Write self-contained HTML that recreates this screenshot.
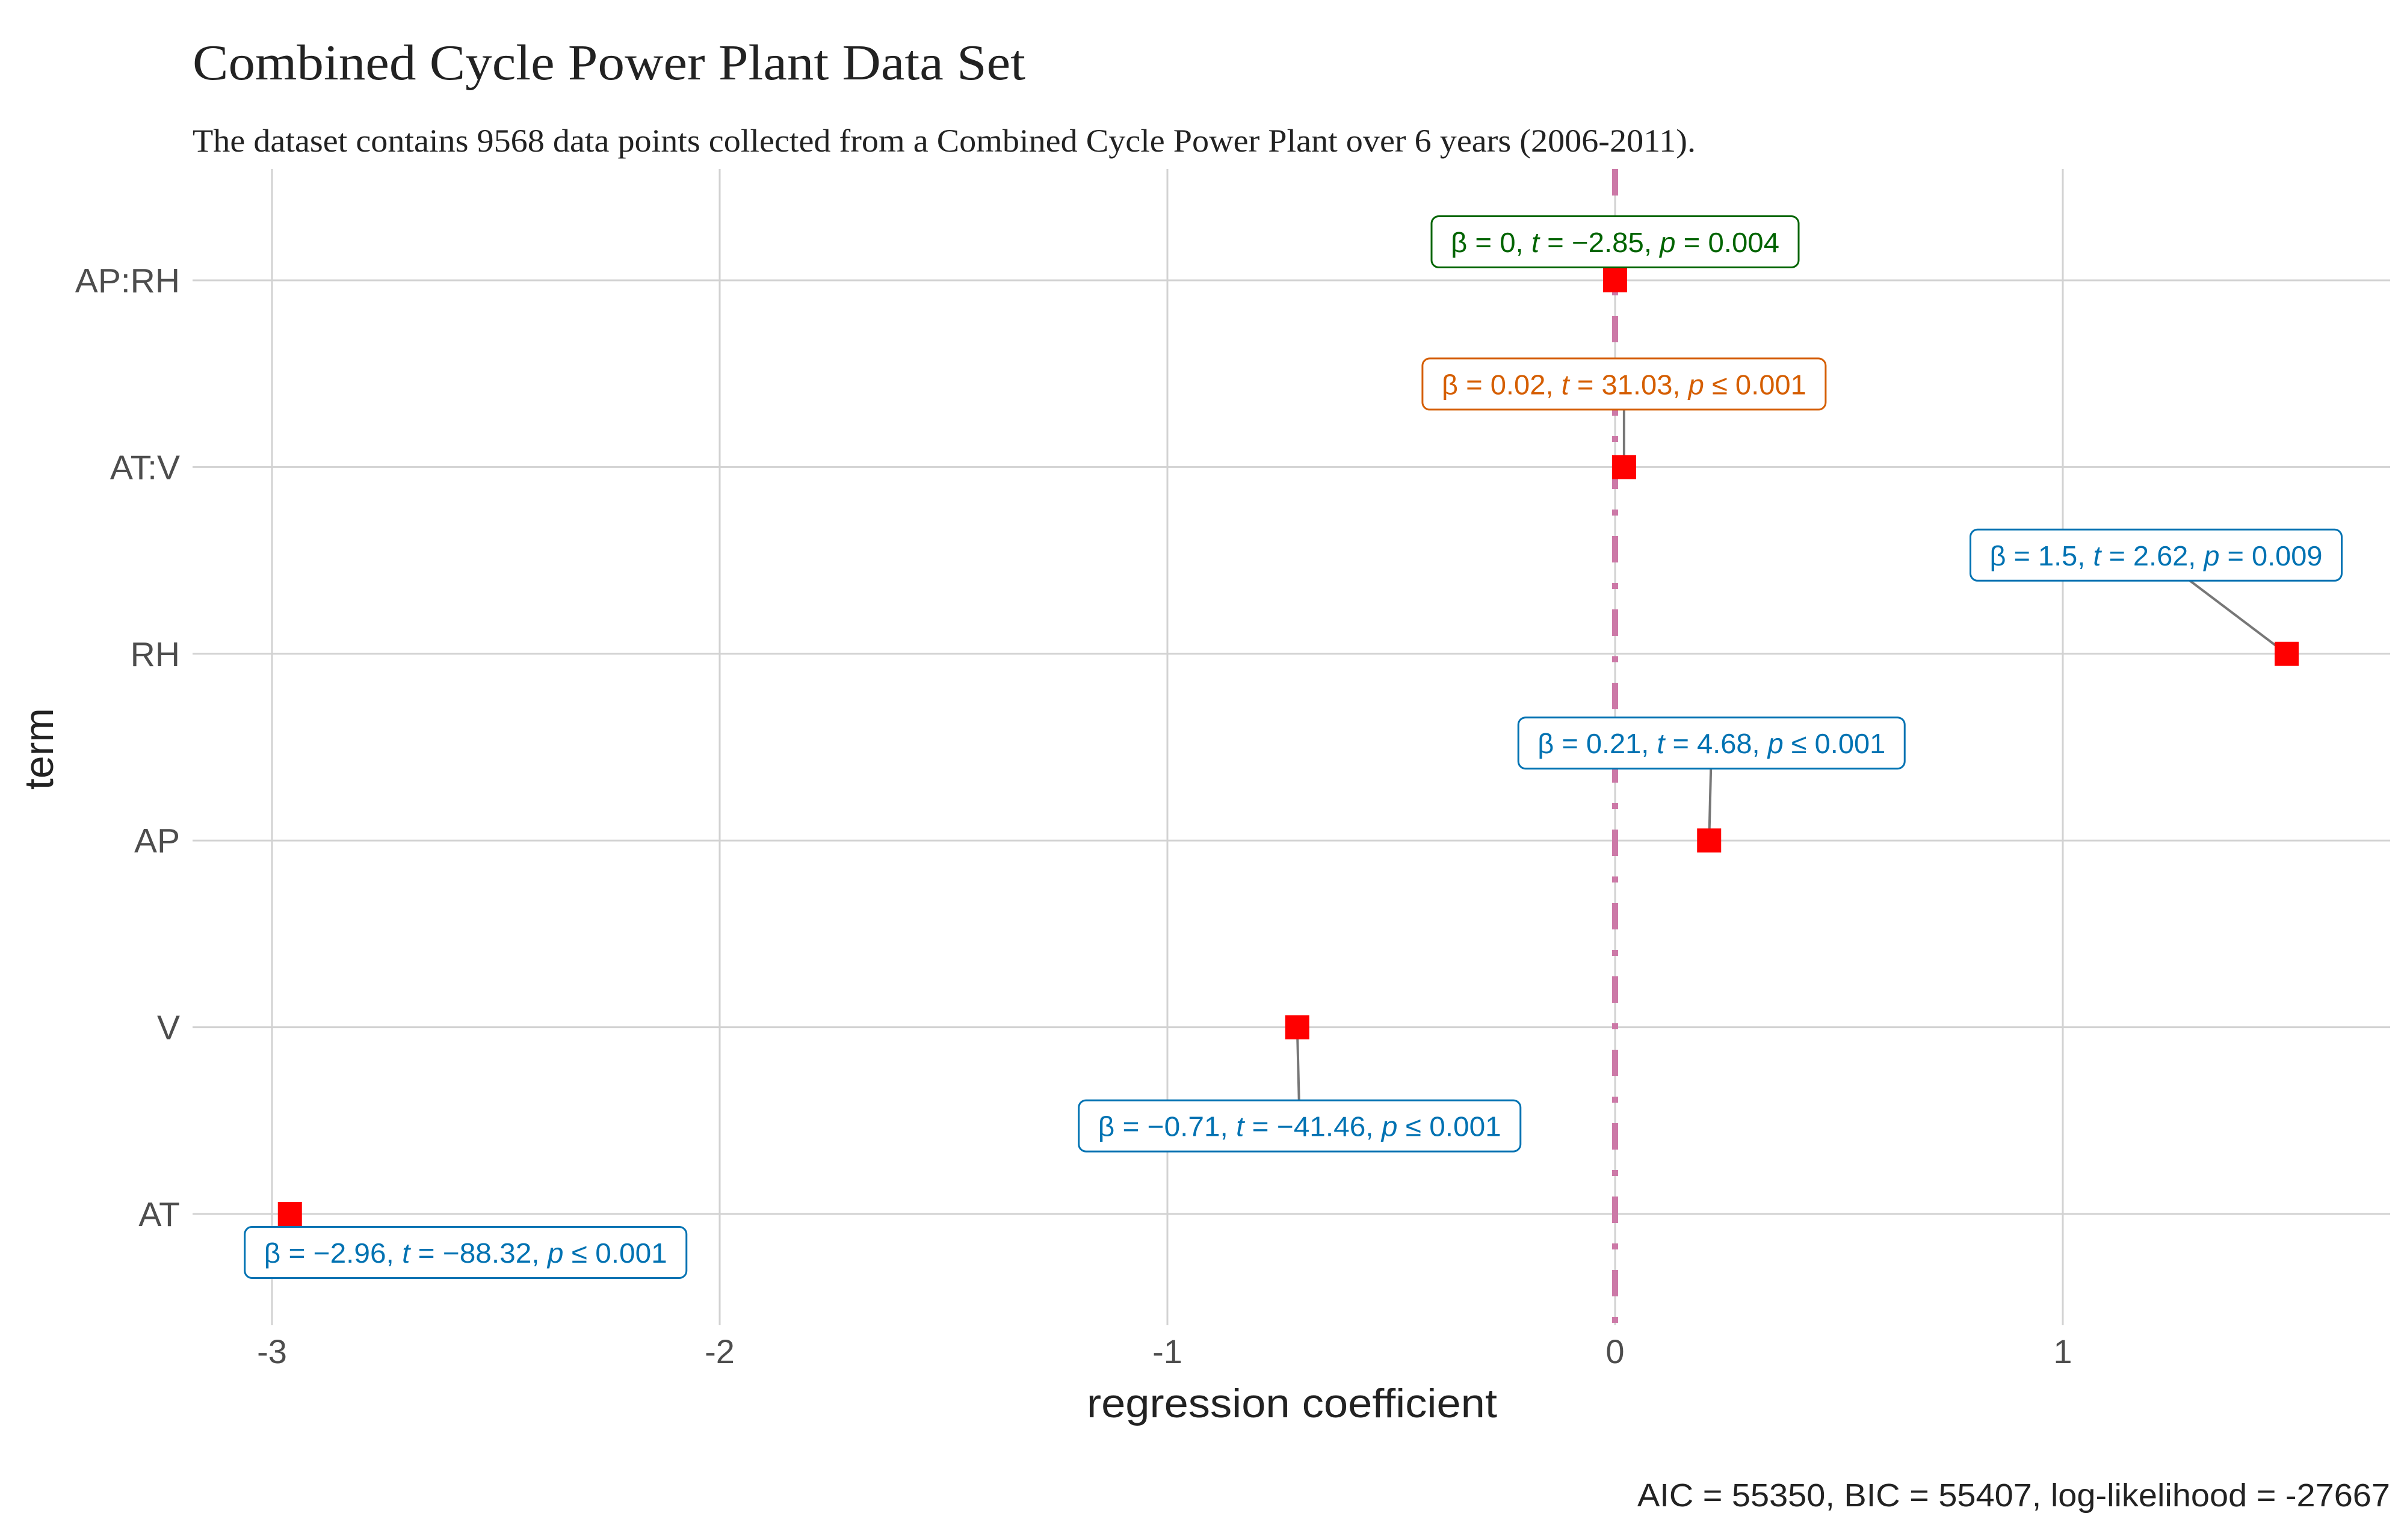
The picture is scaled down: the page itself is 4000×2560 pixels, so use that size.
<!DOCTYPE html>
<html><head><meta charset="utf-8"><style>
html,body{margin:0;padding:0;background:#fff;}
svg{display:block;}
</style></head><body>
<svg id="chart" width="4000" height="2560" viewBox="0 0 4000 2560" xmlns="http://www.w3.org/2000/svg">
<rect x="0" y="0" width="4000" height="2560" fill="#ffffff"/>
<text x="320" y="132" font-family="Liberation Serif, serif" font-size="84" fill="#222" textLength="1384" lengthAdjust="spacingAndGlyphs">Combined Cycle Power Plant Data Set</text>
<text x="320" y="252" font-family="Liberation Serif, serif" font-size="54" fill="#222" textLength="2498" lengthAdjust="spacingAndGlyphs">The dataset contains 9568 data points collected from a Combined Cycle Power Plant over 6 years (2006-2011).</text>
<g id="grid"></g>
<g id="zero"></g>
<g id="marks"></g>
<g id="axes"></g>
<text x="2147" y="2356" text-anchor="middle" font-family="Liberation Sans, sans-serif" font-size="68" fill="#222" textLength="682" lengthAdjust="spacingAndGlyphs">regression coefficient</text>
<text transform="translate(88,1245) rotate(-90)" text-anchor="middle" font-family="Liberation Sans, sans-serif" font-size="68" fill="#222">term</text>
<text x="3972" y="2504" text-anchor="end" font-family="Liberation Sans, sans-serif" font-size="54" fill="#222" textLength="1251" lengthAdjust="spacingAndGlyphs">AIC = 55350, BIC = 55407, log-likelihood = -27667</text>
</svg>
<script>
const terms = ["AP:RH", "AT:V", "RH", "AP", "V", "AT"];
const estimates = [0.0, 0.02, 1.5, 0.21, -0.71, -2.96];
const tStats = ["\u22122.85", "31.03", "2.62", "4.68", "\u221241.46", "\u221288.32"];
const betaText = ["0", "0.02", "1.5", "0.21", "\u22120.71", "\u22122.96"];
const pText = ["= 0.004", "\u2264 0.001", "= 0.009", "\u2264 0.001", "\u2264 0.001", "\u2264 0.001"];
const labelColors = ["#006400", "#D55E00", "#0072B2", "#0072B2", "#0072B2", "#0072B2"];
const xTicks = [-3, -2, -1, 0, 1];
const xTickLabels = ["-3", "-2", "-1", "0", "1"];
// label box layout offsets (pixels, relative to point) and widths — layout only
const labelDx = [0, 0, -217, 4, 4, 292];
const labelDy = [-64, -138, -164, -162, 164, 64];
const labelW = [610, 670, 617, 642, 734, 734];
const drawSegment = [false, true, true, true, true, false];

const NS = "http://www.w3.org/2000/svg";
const X0 = 2684, XU = 744;
function xScale(v){ return X0 + XU * v; }
function yScale(i){ return 466 + i * 310.4; }
const plotL = 320, plotR = 3972, plotT = 281, plotB = 2203;

function mk(tag, attrs, parent){
  const e = document.createElementNS(NS, tag);
  for (const k in attrs) e.setAttribute(k, attrs[k]);
  parent.appendChild(e);
  return e;
}
const grid = document.getElementById("grid");
const axes = document.getElementById("axes");
const marks = document.getElementById("marks");
const zero = document.getElementById("zero");

xTicks.forEach((t, i) => {
  const l = mk("line", {x1: xScale(t), x2: xScale(t), y1: plotT, y2: plotB, stroke: "#d2d2d2", "stroke-width": 3}, grid);
  
  
  const tx = mk("text", {x: xScale(t), y: 2266, "text-anchor": "middle", "font-family": "Liberation Sans, sans-serif", "font-size": 56, fill: "#4d4d4d"}, axes);
  tx.textContent = xTickLabels[i];
  
  
});
terms.forEach((term, i) => {
  const l = mk("line", {x1: plotL, x2: plotR, y1: yScale(i), y2: yScale(i), stroke: "#d2d2d2", "stroke-width": 3}, grid);
  
  
  const tx = mk("text", {x: 299, y: yScale(i) + 20, "text-anchor": "end", "font-family": "Liberation Sans, sans-serif", "font-size": 57, fill: "#4d4d4d"}, axes);
  tx.textContent = term;
  
  
});

const zl = mk("line", {x1: xScale(0), x2: xScale(0), y1: plotT, y2: plotB, stroke: "#CC79A7", "stroke-width": 10, "stroke-dasharray": "44 34 10 34"}, zero);



terms.forEach((term, i) => {
  const px = xScale(estimates[i]), py = yScale(i);
  const cx = px + labelDx[i], cy = py + labelDy[i];
  const w = labelW[i], h = 85;
  if (drawSegment[i]) {
    const edgeY = labelDy[i] < 0 ? cy + h/2 : cy - h/2;
    const ex = px + (edgeY - py) * (labelDx[i] / labelDy[i]);
    const seg = mk("line", {x1: px, y1: py, x2: ex, y2: edgeY, stroke: "#777", "stroke-width": 4}, marks);
    
    
  }
  const pt = mk("rect", {x: px - 20, y: py - 20, width: 40, height: 40, fill: "#ff0000"}, marks);
  
  
  const g = mk("g", {}, marks);
  
  
  mk("rect", {x: cx - w/2, y: cy - h/2, width: w, height: h, rx: 12, ry: 12, fill: "#fff", stroke: labelColors[i], "stroke-width": 3}, g);
  const tx = mk("text", {x: cx, y: cy + 17, "text-anchor": "middle", "font-family": "Liberation Sans, sans-serif", "font-size": 46, fill: labelColors[i], textLength: w - 64, lengthAdjust: "spacingAndGlyphs"}, g);
  const parts = [["\u03b2 = " + betaText[i] + ",  ", false], ["t", true], [" = " + tStats[i] + ",  ", false], ["p", true], [" " + pText[i], false]];
  parts.forEach(p => {
    const s = mk("tspan", p[1] ? {"font-style": "italic"} : {}, tx);
    s.textContent = p[0];
  });
});
</script>
</body></html>
